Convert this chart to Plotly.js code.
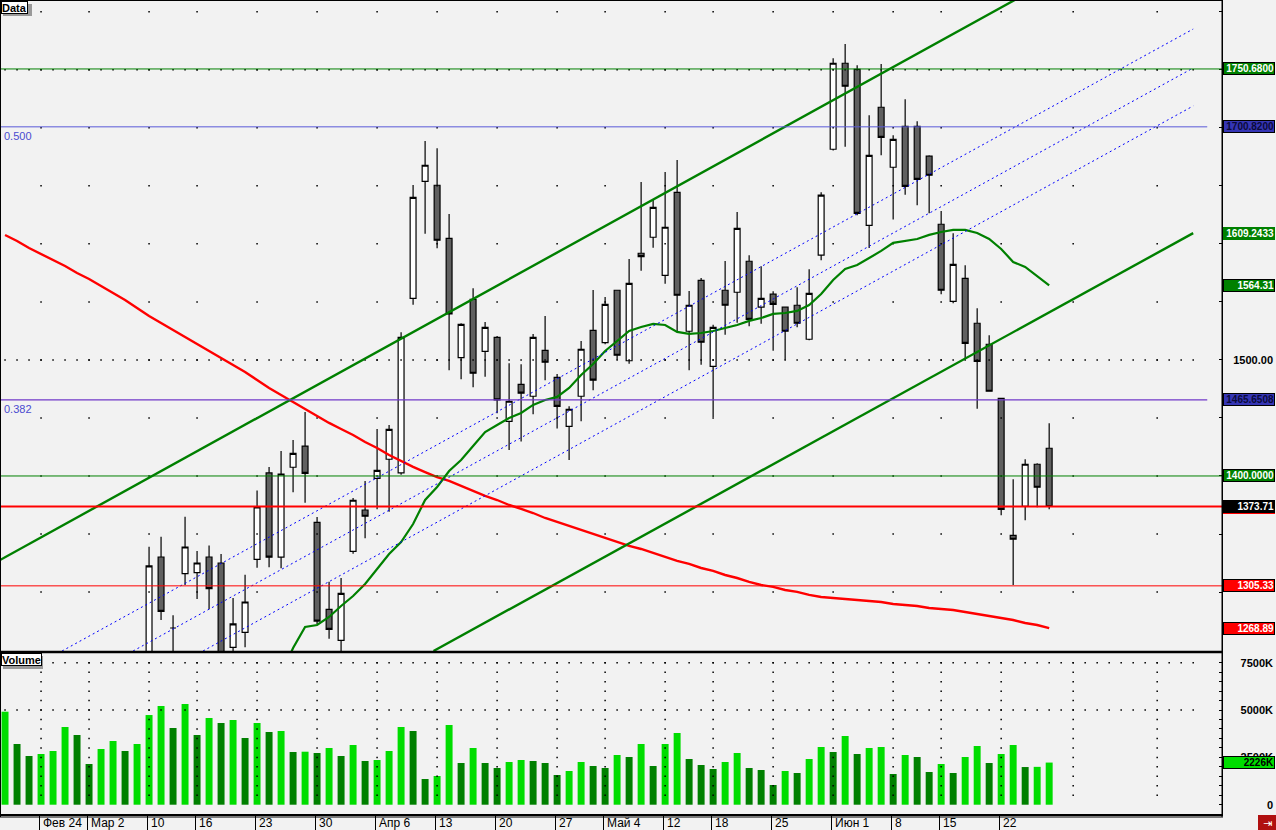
<!DOCTYPE html>
<html><head><meta charset="utf-8">
<script src="https://cdn.plot.ly/plotly-3.0.1.min.js"></script>
<style>html,body{margin:0;padding:0;background:#f2f2f2;}#chart{width:1276px;height:830px;}</style>
</head><body><div id="chart"></div>
<script>
// ---------- DATA ----------
const opens = [1182,1205,1195,1184,1199,1218,1232,1203,1192,1214,
  1228,1210,1226,1330.2,1269,1315.8,1316.7,1330.2,1325,1252.4,
  1265.3,1328.2,1402.6,1330,1407.5,1425.8,1360.1,1285.1,1258.4,1335.1,
  1370.7,1398,1414.4,1402.6,1553.1,1653.9,1650.5,1604.8,1501.9,1552.2,
  1507.4,1519.5,1447.1,1479,1468.7,1508.3,1485,1442.8,1468.7,1525.5,
  1514.9,1560,1499.3,1591.9,1605.7,1572.9,1644.4,1524.7,1568.6,1494.5,
  1560,1558.3,1585,1545.4,1556.6,1545.4,1547.1,1517.8,1590.2,1681.5,
  1755.6,1750.4,1616,1717.7,1666,1701.3,1701.3,1675.5,1616.9,1550.5,
  1570.3,1531.6,1513.5,1466.9,1348.9,1373.9,1410.1,1423.9];
const highs = [1214,1222,1208,1205,1226,1240,1238,1218,1220,1236,
  1234,1232,1339,1347.7,1280,1364.9,1335.4,1340,1332.8,1294.9,
  1315,1387.4,1407.8,1421.5,1431,1455.1,1364.7,1308.9,1312.1,1381,
  1395.7,1440.5,1443.9,1523.8,1650.7,1688.6,1682.4,1625.7,1531.6,1561.7,
  1532.7,1520.6,1497.1,1496.2,1522.3,1537.9,1487.9,1460,1516.3,1560.3,
  1554.2,1560.5,1587,1653.3,1637.8,1661.9,1672.3,1559.4,1570.6,1530.4,
  1585.2,1627.5,1590.2,1580.7,1559.1,1545.4,1562.6,1578.1,1644.4,1759.9,
  1772.2,1753.9,1710.8,1755,1693.6,1724.6,1705.6,1676.3,1628.3,1609.1,
  1581.5,1544.5,1521.2,1466.9,1397.2,1414.4,1410.9,1445.4];
const lows = [1170,1188,1176,1168,1190,1205,1196,1185,1186,1206,
  1204,1200,1218,1275.9,1240,1306.1,1294,1285.1,1228,1240,
  1252.4,1321,1321.3,1320.5,1386,1377,1272.5,1259.8,1244,1333,
  1346.3,1371.3,1369.2,1401,1547.6,1608.8,1596.2,1491,1483.3,1476.4,
  1485.6,1454,1422.4,1429.6,1453.2,1482.5,1441,1413.8,1447.1,1473.8,
  1513.5,1500.2,1496.8,1576.9,1596.7,1565.7,1523.8,1491,1495.9,1450.8,
  1521.7,1532.1,1529,1531.2,1508,1500.2,1528.1,1516.9,1585.9,1680.5,
  1683.7,1624.6,1596.5,1676.3,1620.9,1642.4,1633.2,1626.3,1556.6,1548.8,
  1500.5,1458,1473,1366.1,1306.1,1361.8,1373,1371.3];
const closes = [1205,1195,1184,1199,1218,1232,1203,1192,1214,1228,
  1210,1226,1322.5,1283.4,1269,1338.8,1325,1302.9,1236,1272.5,
  1291.4,1373.3,1330,1401.7,1419.5,1402.3,1275,1267.9,1298.9,1379.1,
  1365.3,1404.9,1440.2,1519.5,1640.1,1667.7,1603.1,1539.6,1530.7,1488.5,
  1528.1,1465.5,1464.4,1471.3,1519.5,1498,1460,1457.5,1509.2,1482.5,
  1547.9,1504,1566,1589,1631.5,1614.3,1555.7,1547.1,1515.2,1528.1,
  1547.1,1613.4,1535,1553.1,1547.9,1524.7,1531.6,1557.4,1641.9,1755.6,
  1735.8,1626.3,1676.3,1691.8,1690.1,1649.6,1655.6,1659.1,1560,1582.4,
  1514.3,1498.8,1473,1371.3,1345.5,1410.1,1390.3,1373.71];
// volume in thousands
const volumes = [4913,3207,2573,2678,2837,4105,3682,2150,2942,3365,
  2837,3207,4737,5213,4052,5319,3682,4580,4316,4474,
  3524,4316,3840,3893,2784,2800,2731,2995,2573,3154,
  2309,2362,2837,4105,3893,1358,1516,4210,2203,2995,
  2203,1939,2256,2362,2309,2203,1569,1780,2256,2045,
  1939,2626,2520,3207,2045,3207,3788,2414,2097,1886,
  2256,2731,1939,1833,1041,1780,1675,2414,3048,2784,
  3629,2678,2995,3048,1622,2626,2520,1728,2150,1675,
  2520,3101,2203,2678,3154,1990,2000,2226];
// long moving average (red)
const maLong = [1607.6,1602.5,1596.4,1591.3,1586.1,1580.9,1574.9,1569.7,1563.7,1557.7,
  1551.6,1544.8,1537.9,1531.8,1525.8,1519.8,1513.7,1507.7,1501.7,1495.6,
  1489.6,1482.7,1475.8,1469.8,1463.8,1457.7,1451.7,1445.7,1440.5,1435.3,
  1429.3,1424.1,1418.1,1412.9,1407.8,1403.4,1399.1,1395.7,1391.4,1387.1,
  1382.8,1379.3,1375.0,1371.6,1368.1,1363.8,1360.4,1356.9,1353.5,1350.0,
  1346.6,1343.1,1339.7,1337.1,1333.7,1330.2,1326.8,1324.2,1320.7,1318.2,
  1314.7,1312.1,1308.7,1306.1,1304.4,1301.8,1300.1,1297.5,1295.7,1294.9,
  1294.0,1293.2,1292.3,1291.4,1289.7,1288.9,1288.0,1286.3,1285.4,1284.5,
  1282.8,1281.1,1279.4,1277.7,1275.9,1273.3,1271.6,1268.89];
// short moving average (green)
const maShort = [null,null,null,null,null,null,null,null,null,null,
  null,null,null,null,null,null,null,null,null,null,
  null,null,1205,1228,1251.8,1269.9,1271.6,1278.5,1288.0,1296.6,
  1307.0,1319.9,1332.8,1343.1,1358.6,1379.3,1390.5,1404.3,1413.8,1425.8,
  1437.9,1443.9,1450.0,1454.3,1461.2,1465.5,1468.1,1475.8,1487.0,1496.5,
  1507.7,1516.3,1524.9,1528.4,1531.0,1530.1,1524.1,1522.4,1523.2,1524.9,
  1527.5,1530.1,1533.6,1536.1,1539.6,1540.4,1542.2,1547.3,1556.8,1568.9,
  1578.4,1581.8,1587.8,1593.9,1600.8,1602.5,1604.2,1607.7,1610.2,1612.0,
  1612.0,1609.4,1604.2,1595.6,1584.4,1580.1,1572.3,1564.31];
// trend channels: [x0, x1], [y0, y1]
const channelUpperX = [-0.42, 84.13], channelUpperY = [1327.6, 1810.1];
const channelLowerX = [35.7, 99.0],   channelLowerY = [1249.2, 1609.24];
const fanX = [[4.75, 99.0], [10.67, 99.0], [16.5, 99.0]];
const fanY = [[1249.2, 1785.1], [1249.2, 1751.5], [1249.2, 1718.8]];
// horizontal levels
const levelValues = [1750.68, 1700.82, 1465.6508, 1400.0, 1373.71, 1305.33];
const fibLevels = [1700.82, 1465.6508], fibTexts = ['0.500', '0.382'];
// date axis
const dateTickIdx = [3,7,12,16,21,26,31,36,41,46,50,55,59,64,69,74,78,83];
const dateTickText = ['Фев 24','Мар 2','10','16','23','30','Апр 6','13','20','27','Май 4','12','18','25','Июн 1','8','15','22'];
const futureGridIdx = [89, 96];
// price & volume axis ticks
const priceTicks = [1250,1300,1350,1400,1450,1500,1550,1600,1650,1700,1750,1800];
const priceLabelVals = [1500], priceLabelText = ['1500.00'];
const volTicks = [500,1000,1500,2000,2500,3000,3500,4000,4500,5000,5500,6000,6500,7000,7500];
const volLabelVals = [0,2500,5000,7500], volLabelText = ['0','2500K','5000K','7500K'];
const priceDenseRows = [1500, 1750], volDenseRows = [5000, 7500];
// right-hand value markers
const boxValues = [1750.68, 1700.82, 1609.2433, 1564.31, 1465.6508, 1400.0, 1373.71, 1305.33, 1268.89];
const boxTexts = ['1750.6800','1700.8200','1609.2433','1564.31','1465.6508','1400.0000','1373.71','1305.33','1268.89'];
const hiddenLevelMarker = 1373.71;   // red marker mostly covered by the last-price box
const lastVolume = 2226, lastVolumeText = '2226K';

// ---------- STYLE ----------
const PRICE_RANGE = [1249.2, 1810.1];
const VOL_RANGE = [-491, 8014];
const X_RANGE = [-0.42, 101.4];
const XDOM = 1222/1276;
const PDOM = [179/830, 1];
const VDOM = [16/830, 177/830];
const LIGHT = '#00dd00', DARK = '#008000';
const boxStyles = [
  {bg:'#008000', fg:'#ffffff', bc:'#000000'},
  {bg:'#3535b5', fg:'#0a0a3a', bc:'#000000'},
  {bg:'#008000', fg:'#ffffff', bc:'#008000'},
  {bg:'#008000', fg:'#ffffff', bc:'#000000'},
  {bg:'#3535b5', fg:'#0a0a3a', bc:'#000000'},
  {bg:'#008000', fg:'#ffffff', bc:'#000000'},
  {bg:'#000000', fg:'#ffffff', bc:'#000000'},
  {bg:'#ff0000', fg:'#ffffff', bc:'#000000'},
  {bg:'#ff0000', fg:'#ffffff', bc:'#000000'}
];
const levelStyles = [
  {c:'#008000', w:1, end:X_RANGE[1]},
  {c:'#5a5ad8', w:1, end:100.17},
  {c:'#7038c8', w:1.2, end:100.17},
  {c:'#008000', w:1, end:X_RANGE[1]},
  {c:'#ff0000', w:2.2, end:X_RANGE[1]},
  {c:'#ff0000', w:1, end:X_RANGE[1]}
];

const idx = opens.map((_, i) => i);
const volColors = volumes.map((v, i) => (i === 0 || v > volumes[i-1]) ? LIGHT : DARK);
const denseIdx = Array.from({length: 100}, (_, i) => i);
const gridCols = dateTickIdx.concat(futureGridIdx);

function dots(xs, ys, yaxis) {
  const X = [], Y = [];
  xs.forEach(x => ys.forEach(y => { X.push(x); Y.push(y); }));
  return {type:'scatter', mode:'markers', x:X, y:Y, xaxis:'x', yaxis:yaxis,
    marker:{symbol:'square', size:1.5, color:'#000', line:{width:0}}, hoverinfo:'skip', showlegend:false};
}

const traces = [
  dots(gridCols, priceTicks.filter(v => v > 1260), 'y'),
  dots(denseIdx, priceDenseRows, 'y'),
  dots(gridCols, volTicks, 'y2'),
  dots(denseIdx, volDenseRows, 'y2'),
  {type:'bar', x:idx, y:volumes, xaxis:'x', yaxis:'y2', width:0.58,
   marker:{color:volColors, line:{width:0}}, hoverinfo:'skip', showlegend:false},
  {type:'candlestick', x:idx, open:opens, high:highs, low:lows, close:closes, xaxis:'x', yaxis:'y',
   whiskerwidth:0,
   increasing:{line:{color:'#000000', width:1.2}, fillcolor:'#ffffff'},
   decreasing:{line:{color:'#000000', width:1.2}, fillcolor:'#606060'},
   hoverinfo:'skip', showlegend:false},
  {type:'scatter', mode:'lines', x:idx, y:maLong, xaxis:'x', yaxis:'y',
   line:{color:'#ff0000', width:2.4}, hoverinfo:'skip', showlegend:false},
  {type:'scatter', mode:'lines', x:idx, y:maShort, xaxis:'x', yaxis:'y',
   line:{color:'#008000', width:2.2}, hoverinfo:'skip', showlegend:false},
  {type:'scatter', mode:'lines', x:channelUpperX, y:channelUpperY, xaxis:'x', yaxis:'y',
   line:{color:'#008000', width:2.4}, hoverinfo:'skip', showlegend:false},
  {type:'scatter', mode:'lines', x:channelLowerX, y:channelLowerY, xaxis:'x', yaxis:'y',
   line:{color:'#008000', width:2.4}, hoverinfo:'skip', showlegend:false}
];
fanX.forEach((fx, k) => traces.push({type:'scatter', mode:'lines', x:fx, y:fanY[k], xaxis:'x', yaxis:'y',
  line:{color:'#0000ff', width:1, dash:'2px,3px'}, hoverinfo:'skip', showlegend:false}));

const shapes = [];
levelValues.forEach((v, k) => shapes.push({type:'line', xref:'x', yref:'y', x0:X_RANGE[0], x1:levelStyles[k].end,
  y0:v, y1:v, line:{color:levelStyles[k].c, width:levelStyles[k].w}}));
// frame
shapes.push({type:'line', xref:'paper', yref:'paper', x0:0, x1:XDOM + 1/1276, y0:PDOM[0]-0.0012, y1:PDOM[0]-0.0012, line:{color:'#000', width:2.5}});
shapes.push({type:'line', xref:'paper', yref:'paper', x0:0, x1:XDOM, y0:1-0.5/830, y1:1-0.5/830, line:{color:'#000', width:1}});
shapes.push({type:'line', xref:'paper', yref:'paper', x0:0.5/1276, x1:0.5/1276, y0:13/830, y1:1, line:{color:'#000', width:1}});
shapes.push({type:'line', xref:'paper', yref:'paper', x0:0, x1:XDOM + 1/1276, y0:13/830, y1:13/830, line:{color:'#000', width:1}});
shapes.push({type:'line', xref:'paper', yref:'paper', x0:XDOM, x1:XDOM, y0:13/830, y1:1, line:{color:'#000', width:1}});
// label box shadows
shapes.push({type:'rect', xref:'paper', yref:'paper', x0:3/1276, x1:32/1276, y0:(830-16)/830, y1:(830-4)/830, fillcolor:'#9a9a9a', line:{width:0}});
shapes.push({type:'rect', xref:'paper', yref:'paper', x0:3/1276, x1:43/1276, y0:(830-669)/830, y1:(830-656)/830, fillcolor:'#9a9a9a', line:{width:0}});
// red level marker peeking below the last-price box
shapes.push({type:'rect', xref:'paper', yref:'y', x0:1223/1276, x1:1275/1276, y0:hiddenLevelMarker - 6.5, y1:hiddenLevelMarker + 2,
  fillcolor:'#ff0000', line:{width:0}});
// exit icon
shapes.push({type:'rect', xref:'paper', yref:'paper', x0:1258/1276, x1:1276/1276, y0:0, y1:15/830, fillcolor:'#b01010', line:{width:0}});

const annotations = [];
fibLevels.forEach((v, k) => annotations.push({xref:'paper', yref:'y', x:2/1276, y:v, xanchor:'left', yanchor:'top',
  yshift:-1, text:fibTexts[k], showarrow:false, font:{family:'Liberation Sans', size:11, color:'#4a4ad0'}}));
dateTickIdx.forEach((t, k) => annotations.push({xref:'x', yref:'paper', x:t - 0.1, y:7/830, xanchor:'left', yanchor:'middle',
  xshift:1, text:dateTickText[k], showarrow:false, font:{family:'Liberation Sans', size:12, color:'#000'}}));
boxValues.forEach((v, k) => annotations.push({xref:'paper', yref:'y', x:1223/1276, y:v, xanchor:'left', yanchor:'middle',
  text:'<b>' + boxTexts[k] + '</b>', showarrow:false, width:50, height:11, align:'right', borderpad:0, borderwidth:1,
  bgcolor:boxStyles[k].bg, bordercolor:boxStyles[k].bc, font:{family:'Liberation Sans', size:10, color:boxStyles[k].fg}}));
annotations.push({xref:'paper', yref:'y2', x:1223/1276, y:lastVolume, xanchor:'left', yanchor:'middle',
  text:'<b>' + lastVolumeText + '</b>', showarrow:false, width:50, height:11, align:'right', borderpad:0, borderwidth:1,
  bgcolor:LIGHT, bordercolor:'#000', font:{family:'Liberation Sans', size:10, color:'#000'}});
annotations.push({xref:'paper', yref:'paper', x:1/1276, y:(830-1)/830, xanchor:'left', yanchor:'top', text:'<b>Data</b>',
  showarrow:false, bgcolor:'#ffffff', bordercolor:'#000', borderwidth:1, borderpad:0, height:11,
  font:{family:'Liberation Sans', size:11, color:'#000'}});
annotations.push({xref:'paper', yref:'paper', x:1/1276, y:(830-653)/830, xanchor:'left', yanchor:'top', text:'<b>Volume</b>',
  showarrow:false, bgcolor:'#ffffff', bordercolor:'#000', borderwidth:1, borderpad:0, height:11,
  font:{family:'Liberation Sans', size:11, color:'#000'}});
annotations.push({xref:'paper', yref:'paper', x:1267/1276, y:7/830, xanchor:'center', yanchor:'middle', text:'⇥',
  showarrow:false, font:{family:'DejaVu Sans', size:11, color:'#ffffff'}});

const tickFontBold = {family:'Liberation Sans', size:11, color:'#000', weight:'bold'};
const layout = {
  width:1276, height:830, margin:{l:0, r:0, t:0, b:0},
  paper_bgcolor:'#f2f2f2', plot_bgcolor:'#f2f2f2', showlegend:false, dragmode:false,
  boxgap:0.3,
  xaxis:{domain:[0, XDOM], range:X_RANGE, anchor:'y2', showgrid:false, zeroline:false,
    tickmode:'array', tickvals:dateTickIdx.map(t => t - 0.1), ticks:'outside', ticklen:16, tickcolor:'#000', tickwidth:1,
    showticklabels:false, showline:true, linecolor:'#000', linewidth:2, rangeslider:{visible:false}, fixedrange:true},
  yaxis:{domain:PDOM, range:PRICE_RANGE, anchor:'x', side:'right', showgrid:false, zeroline:false,
    tickmode:'array', tickvals:priceTicks, ticks:'inside', ticklen:3, tickcolor:'#000', showticklabels:false,
    showline:true, linecolor:'#000', linewidth:1, fixedrange:true},
  yaxis2:{domain:VDOM, range:VOL_RANGE, anchor:'x', side:'right', showgrid:false, zeroline:false,
    tickmode:'array', tickvals:volTicks.concat([0]), ticks:'inside', ticklen:3, tickcolor:'#000', showticklabels:false,
    showline:true, linecolor:'#000', linewidth:1, fixedrange:true},
  yaxis3:{overlaying:'y', range:PRICE_RANGE, anchor:'free', position:1, side:'left', showgrid:false, zeroline:false,
    showline:false, ticks:'', tickmode:'array', tickvals:priceLabelVals, ticktext:priceLabelText,
    tickfont:tickFontBold, ticklabelstandoff:3, fixedrange:true},
  yaxis4:{overlaying:'y2', range:VOL_RANGE, anchor:'free', position:1, side:'left', showgrid:false, zeroline:false,
    showline:false, ticks:'', tickmode:'array', tickvals:volLabelVals, ticktext:volLabelText,
    tickfont:tickFontBold, ticklabelstandoff:3, fixedrange:true},
  shapes:shapes, annotations:annotations
};
// invisible anchors so the overlay label axes are drawn
traces.push({type:'scatter', x:[0], y:[1500], xaxis:'x', yaxis:'y3', mode:'markers', marker:{opacity:0}, hoverinfo:'skip', showlegend:false});
traces.push({type:'scatter', x:[0], y:[0], xaxis:'x', yaxis:'y4', mode:'markers', marker:{opacity:0}, hoverinfo:'skip', showlegend:false});

Plotly.newPlot('chart', traces, layout, {staticPlot:true, displayModeBar:false});
</script></body></html>
